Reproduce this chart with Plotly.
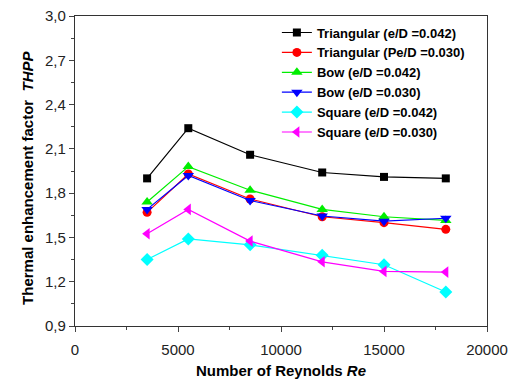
import plotly.graph_objects as go

# Reynolds numbers tested
reynolds = [3500, 5500, 8500, 12000, 15000, 18000]

# Thermal enhancement factor THPP for each rib shape
tri_042 = [1.90, 2.24, 2.06, 1.94, 1.91, 1.90]
tri_030 = [1.67, 1.93, 1.76, 1.64, 1.60, 1.555]
bow_042 = [1.74, 1.98, 1.82, 1.69, 1.64, 1.615]
bow_030 = [1.69, 1.92, 1.75, 1.645, 1.61, 1.63]
sq_042 = [1.35, 1.49, 1.45, 1.38, 1.315, 1.13]
sq_030 = [1.525, 1.69, 1.475, 1.335, 1.27, 1.265]

series = [
    ("Triangular (e/D =0.042)", tri_042, "#000000", "square", 8),
    ("Triangular (Pe/D =0.030)", tri_030, "#ff0000", "circle", 9),
    ("Bow (e/D =0.042)", bow_042, "#00ee00", "triangle-up", 10),
    ("Bow (e/D =0.030)", bow_030, "#0000ff", "triangle-down", 10),
    ("Square (e/D =0.042)", sq_042, "#00ffff", "diamond", 10),
    ("Square (e/D =0.030)", sq_030, "#ff00ff", "triangle-left", 10),
]

FONT = "Arial, Liberation Sans, sans-serif"

fig = go.Figure()
for name, vals, color, symbol, size in series:
    fig.add_trace(go.Scatter(
        x=reynolds, y=vals, name=name, mode="lines+markers",
        line=dict(color=color, width=1.2),
        marker=dict(symbol=symbol, size=size, color=color),
    ))

fig.update_layout(
    width=511, height=379,
    margin=dict(l=75, r=24, t=16, b=53),
    paper_bgcolor="white", plot_bgcolor="white",
    separators=",.",
    font=dict(family=FONT, size=15, color="#222"),
    legend=dict(
        x=0.49, y=0.995, xanchor="left", yanchor="top",
        bgcolor="rgba(0,0,0,0)", borderwidth=0,
        font=dict(family=FONT, size=13, color="#000", weight="bold"),
        tracegroupgap=0, itemwidth=30,
    ),
    showlegend=True,
    annotations=[
        dict(text="<b>Thermal enhancement factor\u00a0\u00a0<i>THPP</i></b>",
             xref="paper", yref="paper", x=-0.117, y=0.477,
             xanchor="center", yanchor="middle", textangle=-90,
             showarrow=False, font=dict(size=15, color="#000")),
        dict(text="<b>Number of Reynolds <i>Re</i></b>",
             xref="paper", yref="paper", x=0.5, y=-0.145,
             xanchor="center", yanchor="middle",
             showarrow=False, font=dict(size=15, color="#000")),
    ],
)

fig.update_xaxes(
    range=[0, 20000], tickvals=[0, 5000, 10000, 15000, 20000],
    ticktext=["0", "5000", "10000", "15000", "20000"],
    ticks="outside", ticklen=5, tickcolor="#444",
    minor=dict(ticks="outside", ticklen=3, dtick=2500, tickcolor="#444"),
    showline=True, linecolor="#333", linewidth=1.2, mirror=True,
    showgrid=False, zeroline=False, automargin=False,
    tickfont=dict(size=15, color="#222"), ticklabelstandoff=5,
)
fig.update_yaxes(
    range=[0.9, 3.0], tickvals=[0.9, 1.2, 1.5, 1.8, 2.1, 2.4, 2.7, 3.0],
    tickformat=".1f",
    ticks="outside", ticklen=5, tickcolor="#444",
    minor=dict(ticks="outside", ticklen=3, dtick=0.15, tickcolor="#444"),
    showline=True, linecolor="#333", linewidth=1.2, mirror=True,
    showgrid=False, zeroline=False, automargin=False,
    tickfont=dict(size=15, color="#222"),
)

fig.write_html("out.html")
